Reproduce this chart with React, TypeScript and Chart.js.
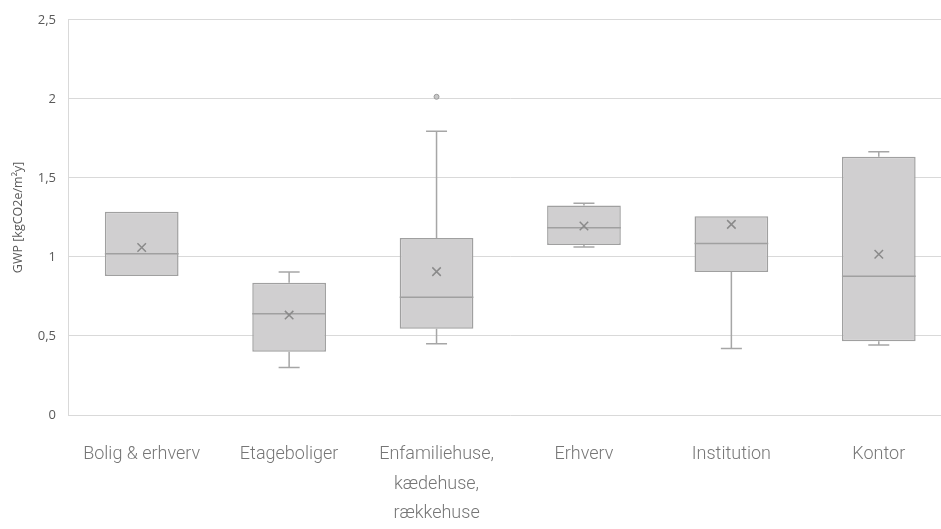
import React, { useEffect, useRef } from "react";
import { Chart, registerables } from "chart.js";

Chart.register(...registerables);

const categories: (string | string[])[] = [
  "Bolig & erhverv",
  "Etageboliger",
  ["Enfamiliehuse,", "kædehuse,", "rækkehuse"],
  "Erhverv",
  "Institution",
  "Kontor",
];
const mins = [0.88, 0.3, 0.45, 1.062, 0.42, 0.443];
const q1s = [0.88, 0.4, 0.545, 1.075, 0.905, 0.467];
const medians = [1.02, 0.64, 0.745, 1.185, 1.085, 0.878];
const q3s = [1.285, 0.837, 1.12, 1.325, 1.257, 1.633];
const maxs = [1.285, 0.905, 1.795, 1.34, 1.257, 1.665];
const means = [1.06, 0.632, 0.907, 1.196, 1.206, 1.017];
const outliers = [null, null, 2.013, null, null, null];
const yTicks = [0, 0.5, 1, 1.5, 2, 2.5];

const LABEL_FONT = "Roboto, 'Noto Sans', sans-serif";
const AXIS_FONT = "'Open Sans', 'Noto Sans', sans-serif";
const BOX_FILL = "#d0cfd0";
const BOX_LINE = "#a0a0a0";
const WHISKER = "#a6a6a6";

const boxPlugin = {
  id: "boxExtras",
  afterDatasetDraw(chart: any, args: any) {
    if (args.index !== 0) return;
    const ctx = chart.ctx;
    const y = chart.scales.y;
    const meta = chart.getDatasetMeta(0);
    ctx.save();
    meta.data.forEach((bar: any, i: number) => {
      const x = bar.x;
      const w = bar.width;
      const cap = 21;
      ctx.strokeStyle = WHISKER;
      ctx.lineWidth = 1.5;
      const yq1 = y.getPixelForValue(q1s[i]);
      const yq3 = y.getPixelForValue(q3s[i]);
      const ymin = y.getPixelForValue(mins[i]);
      const ymax = y.getPixelForValue(maxs[i]);
      if (maxs[i] > q3s[i]) {
        ctx.beginPath();
        ctx.moveTo(x, yq3);
        ctx.lineTo(x, ymax);
        ctx.moveTo(x - cap / 2, ymax);
        ctx.lineTo(x + cap / 2, ymax);
        ctx.stroke();
      }
      if (mins[i] < q1s[i]) {
        ctx.beginPath();
        ctx.moveTo(x, yq1);
        ctx.lineTo(x, ymin);
        ctx.moveTo(x - cap / 2, ymin);
        ctx.lineTo(x + cap / 2, ymin);
        ctx.stroke();
      }
      const ym = y.getPixelForValue(medians[i]);
      ctx.strokeStyle = BOX_LINE;
      ctx.lineWidth = 1.5;
      ctx.beginPath();
      ctx.moveTo(x - w / 2, ym);
      ctx.lineTo(x + w / 2, ym);
      ctx.stroke();
    });
    ctx.restore();
  },
};

export default function App() {
  const ref = useRef<HTMLCanvasElement>(null);
  useEffect(() => {
    if (!ref.current) return;
    const chart = new Chart(ref.current, {
      type: "bar",
      data: {
        labels: categories as any,
        datasets: [
          {
            type: "bar",
            data: q1s.map((q, i) => [q, q3s[i]]) as any,
            backgroundColor: BOX_FILL,
            borderColor: BOX_LINE,
            borderWidth: 1.5,
            borderSkipped: false,
            barPercentage: 1,
            categoryPercentage: 0.5,
            order: 3,
          } as any,
          {
            type: "line",
            data: means,
            showLine: false,
            pointStyle: "crossRot",
            pointRadius: 6,
            pointBorderColor: "#8a8a8a",
            pointBorderWidth: 1.5,
            order: 1,
          } as any,
          {
            type: "line",
            data: outliers,
            showLine: false,
            pointStyle: "circle",
            pointRadius: 2.5,
            pointBackgroundColor: "#c8c8c8",
            pointBorderColor: "#9a9a9a",
            pointBorderWidth: 1,
            order: 1,
          } as any,
        ],
      },
      options: {
        animation: false,
        responsive: false,
        devicePixelRatio: 1,
        layout: { padding: { top: 18, right: 7, left: 0, bottom: 0 } },
        plugins: { legend: { display: false }, tooltip: { enabled: false } },
        scales: {
          x: {
            grid: { display: false },
            border: { display: false },
            ticks: {
              autoSkip: false,
              maxRotation: 0,
              minRotation: 0,
              padding: 17,
              color: "#767676",
              font: { family: LABEL_FONT, size: 18, weight: "300", lineHeight: 1.64 },
            },
            afterFit(scale: any) {
              scale.height = 114;
            },
          },
          y: {
            min: 0,
            max: 2.5,
            afterBuildTicks(scale: any) {
              scale.ticks = yTicks.map((v) => ({ value: v }));
            },
            grid: { color: "#d9d9d9", lineWidth: 1, drawTicks: false },
            border: { display: true, color: "#d9d9d9", width: 1 },
            ticks: {
              padding: 12,
              color: "#595959",
              font: { family: AXIS_FONT, size: 13 },
              callback: (v: any) => String(v).replace(".", ","),
            },
            title: {
              display: true,
              text: "GWP [kgCO2e/m²y]",
              color: "#595959",
              font: { family: AXIS_FONT, size: 12.5 },
              padding: { top: 11, bottom: 0 },
            },
            afterFit(scale: any) {
              scale.width = 68;
            },
          },
        },
      },
      plugins: [boxPlugin],
    });
    return () => chart.destroy();
  }, []);
  return (
    <div
      style={{
        position: "fixed",
        left: 0,
        top: 0,
        width: 941,
        height: 529,
        overflow: "hidden",
        background: "#fff",
      }}
    >
      <canvas ref={ref} width={960} height={529} style={{ width: 960, height: 529, display: "block" }} />
    </div>
  );
}
